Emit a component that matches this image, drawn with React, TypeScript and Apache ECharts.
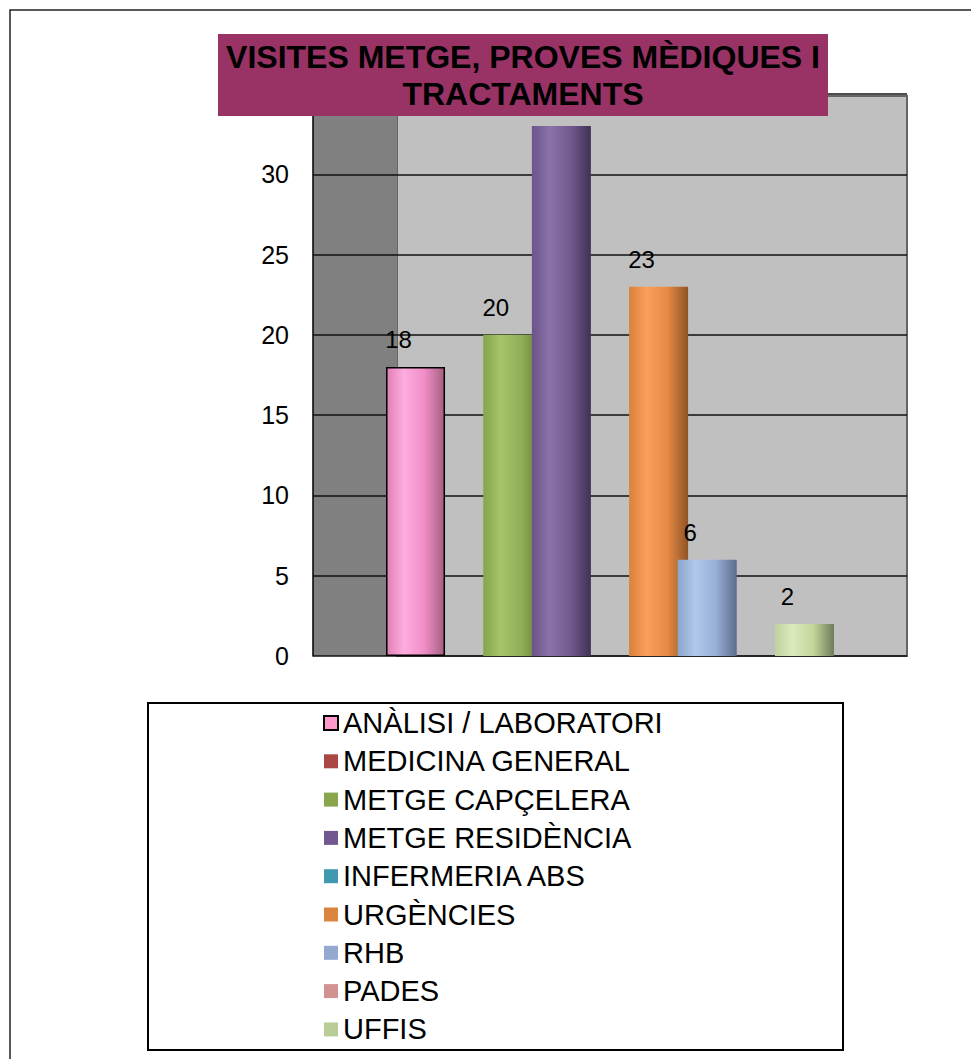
import React, { useEffect, useRef } from "react";
import * as echarts from "echarts";

const categories = [""];
const seriesNames = [
  "ANÀLISI / LABORATORI",
  "MEDICINA GENERAL",
  "METGE CAPÇELERA",
  "METGE RESIDÈNCIA",
  "INFERMERIA ABS",
  "URGÈNCIES",
  "RHB",
  "PADES",
  "UFFIS",
];
const seriesValues = [18, 0, 20, 33, 0, 23, 6, 0, 2];
// the 33 label is hidden behind the title box in the reference
const labelVisible = [true, false, true, false, false, true, true, false, true];
const legendColors = [
  "#FF99CC",
  "#AA4643",
  "#89A54E",
  "#71588F",
  "#4198AF",
  "#DB843D",
  "#93A9CF",
  "#D19392",
  "#B9CD96",
];
// [dark edge, highlight, mid, right shade]
const barShades = [
  ["#E07FB6", "#FFADE0", "#F08EC8", "#A5607F"],
  ["#9A3D3A", "#C05A57", "#AA4643", "#6E2B29"],
  ["#86A64A", "#A6C46A", "#90AE55", "#5F7A33"],
  ["#6A5488", "#8A72AA", "#73598F", "#3F3155"],
  ["#3A8CA2", "#5FB2C8", "#4198AF", "#285E6C"],
  ["#D9803C", "#F9A05A", "#E68A45", "#8F5426"],
  ["#8CA5CC", "#B2C9EE", "#97AED6", "#5A6C88"],
  ["#C68684", "#E3A9A8", "#D19392", "#8A5D5C"],
  ["#BFD29E", "#DCEABF", "#C3D69B", "#6E7D58"],
];
const yTicks = { min: 0, max: 35, interval: 5 };
const titleLines = ["VISITES METGE, PROVES MÈDIQUES I", "TRACTAMENTS"];

const FONT = "'Liberation Sans', Arial, sans-serif";

export default function App() {
  const ref = useRef<HTMLDivElement>(null);

  useEffect(() => {
    if (!ref.current) return;
    const chart = echarts.init(ref.current, null, { renderer: "svg" });

    const series = seriesNames.map((name, i) => {
      const s = barShades[i];
      return {
        name,
        type: "bar",
        data: [seriesValues[i]],
        barWidth: 59,
        barGap: "-17.6%",
        itemStyle: {
          color: new echarts.graphic.LinearGradient(0, 0, 1, 0, [
            { offset: 0, color: s[0] },
            { offset: 0.3, color: s[1] },
            { offset: 0.65, color: s[2] },
            { offset: 1, color: s[3] },
          ]),
          borderColor: i === 0 ? "#000" : "transparent",
          borderWidth: i === 0 ? 1.5 : 0,
        },
        label: {
          show: labelVisible[i],
          position: "top",
          distance: 15,
          offset: [-17, 0],
          color: "#000",
          fontSize: 24,
          fontFamily: FONT,
        },
      };
    });

    chart.setOption({
      animation: false,
      textStyle: { fontFamily: FONT },
      grid: { left: 313, right: 64, top: 94, bottom: 403 },
      xAxis: {
        type: "category",
        data: categories,
        axisLine: { show: false },
        axisTick: { show: false },
        axisLabel: { show: false },
      },
      yAxis: {
        type: "value",
        min: yTicks.min,
        max: yTicks.max,
        interval: yTicks.interval,
        axisLine: { show: true, lineStyle: { color: "#000", width: 1.5 } },
        axisTick: { show: false },
        axisLabel: {
          color: "#000",
          fontSize: 25,
          fontFamily: FONT,
          margin: 24,
          showMaxLabel: false,
        },
        splitLine: { show: true, lineStyle: { color: "#111", width: 1.5 } },
      },
      legend: {
        orient: "vertical",
        left: 323,
        top: 708,
        padding: 0,
        itemWidth: 14,
        itemHeight: 14,
        itemGap: 8.3,
        icon: "rect",
        textStyle: { color: "#000", fontSize: 29, lineHeight: 30, fontFamily: FONT },
        data: seriesNames.map((n, i) => ({
          name: n,
          itemStyle: {
            color: legendColors[i],
            borderColor: i === 0 ? "#000" : legendColors[i],
            borderWidth: i === 0 ? 2 : 0,
          },
        })),
      },
      graphic: [
        {
          type: "rect",
          z: -10,
          shape: { x: 10, y: 10, width: 1000, height: 1100 },
          style: { fill: "#fff", stroke: "#222", lineWidth: 1.5 },
        },
        {
          type: "rect",
          z: -9,
          shape: { x: 397, y: 96, width: 510, height: 560 },
          style: { fill: "#C0C0C0", stroke: "#666", lineWidth: 2 },
        },
        {
          type: "rect",
          z: -9,
          shape: { x: 313, y: 94, width: 84, height: 562 },
          style: { fill: "#808080" },
        },
        {
          type: "rect",
          z: 50,
          shape: { x: 218, y: 34, width: 610, height: 82 },
          style: { fill: "#993366" },
        },
        {
          type: "text",
          z: 51,
          x: 523,
          y: 75,
          style: {
            text: titleLines.join("\n"),
            font: `bold 32px ${FONT}`,
            fill: "#000",
            align: "center",
            verticalAlign: "middle",
            lineHeight: 37,
          },
        },
        {
          type: "rect",
          z: 5,
          shape: { x: 148, y: 703, width: 695, height: 347 },
          style: { fill: "none", stroke: "#000", lineWidth: 2 },
        },
      ],
      series,
    });

    return () => chart.dispose();
  }, []);

  return (
    <div
      ref={ref}
      style={{ position: "absolute", left: 0, top: 0, width: 971, height: 1059 }}
    />
  );
}
